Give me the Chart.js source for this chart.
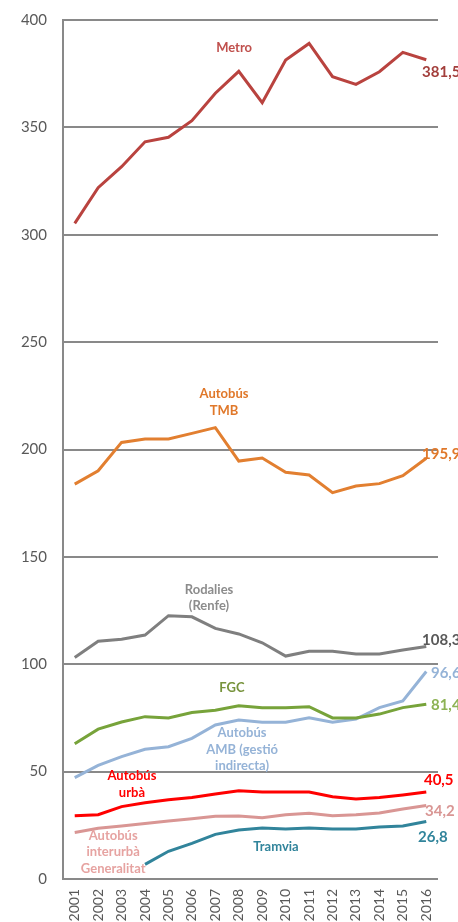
<!DOCTYPE html>
<html>
<head>
<meta charset="utf-8">
<script src="https://cdn.jsdelivr.net/npm/chart.js@4/dist/chart.umd.min.js"></script>
<style>
    body { margin: 0; background: #fff; }
    canvas { display: block; }
</style>
</head>
<body>
<canvas id="chart" width="458" height="922"></canvas>
<script>
    var YEARS = ['2001', '2002', '2003', '2004', '2005', '2006', '2007', '2008',
                 '2009', '2010', '2011', '2012', '2013', '2014', '2015', '2016'];

    var METRO = [305.3, 321.9, 331.7, 343.3, 345.4, 353.1, 365.9, 376.1,
                 361.5, 381.4, 389.1, 373.6, 370.0, 375.9, 384.9, 381.5];
    var BUS_TMB = [183.9, 190.1, 203.3, 204.9, 204.9, 207.5, 210.2, 194.6,
                   196.0, 189.4, 188.1, 179.9, 183.0, 184.1, 187.8, 195.9];
    var RODALIES = [103.1, 110.7, 111.6, 113.6, 122.6, 122.1, 116.7, 114.1,
                    110.0, 103.8, 106.0, 106.0, 104.8, 104.8, 106.6, 108.3];
    var FGC = [63.0, 69.8, 73.1, 75.6, 75.0, 77.5, 78.6, 80.7,
               79.8, 79.8, 80.2, 75.0, 75.0, 76.8, 79.8, 81.4];
    var BUS_AMB = [47.2, 52.9, 57.0, 60.4, 61.6, 65.5, 71.7, 74.0,
                   73.0, 73.0, 75.1, 73.0, 74.5, 79.8, 82.9, 96.6];
    var BUS_URBA = [29.5, 29.9, 33.7, 35.5, 36.9, 38.0, 39.6, 41.1,
                    40.5, 40.5, 40.5, 38.3, 37.3, 37.9, 39.1, 40.5];
    var BUS_INTERURBA = [21.7, 23.6, 24.7, 25.8, 27.0, 28.1, 29.2, 29.3,
                         28.5, 29.9, 30.6, 29.5, 29.9, 30.7, 32.6, 34.2];
    var TRAMVIA = [null, null, null, 6.8, 12.9, 16.6, 20.8, 22.8,
                   23.7, 23.3, 23.7, 23.3, 23.3, 24.2, 24.7, 26.8];

    var Y_MIN = 0;
    var Y_MAX = 400;
    var Y_STEP = 50;

    var GRID = '#898989';
    var TICK = '#595959';
    var FONT = 'Lato, "DejaVu Sans", sans-serif';

    // series names and end values, anchored in data units (category index, value)
    var LABELS = [
        {text: ['Metro'], color: '#C0504D', x: 6.8, y: 387.0, align: 'center', size: 13},
        {text: ['381,5'], color: '#A33F3C', x: 14.82, y: 375.8, align: 'left', size: 15},
        {text: ['Autobús', 'TMB'], color: '#E0782A', x: 6.37, y: 221.9, align: 'center', size: 13},
        {text: ['195,9'], color: '#E0782A', x: 14.82, y: 197.9, align: 'left', size: 15},
        {text: ['Rodalies', '(Renfe)'], color: '#8C8C8C', x: 5.73, y: 130.9, align: 'center', size: 13},
        {text: ['108,3'], color: '#595959', x: 14.82, y: 111.0, align: 'left', size: 15},
        {text: ['FGC'], color: '#77933C', x: 6.71, y: 88.9, align: 'center', size: 13},
        {text: ['96,6'], color: '#95B3D7', x: 15.2, y: 95.8, align: 'left', size: 15},
        {text: ['81,4'], color: '#8DB254', x: 15.2, y: 81.0, align: 'left', size: 15},
        {text: ['Autobús', 'AMB (gestió', 'indirecta)'], color: '#95B3D7', x: 7.14, y: 60.3, align: 'center', size: 13},
        {text: ['Autobús', 'urbà'], color: '#FF0000', x: 2.44, y: 44.0, align: 'center', size: 13},
        {text: ['40,5'], color: '#FF0000', x: 14.9, y: 46.1, align: 'left', size: 15},
        {text: ['Autobús', 'interurbà', 'Generalitat'], color: '#E6A3A1', x: 1.64, y: 12.6, align: 'center', size: 13},
        {text: ['34,2'], color: '#D99694', x: 14.95, y: 31.8, align: 'left', size: 15},
        {text: ['Tramvia'], color: '#31849B', x: 8.59, y: 15.0, align: 'center', size: 13},
        {text: ['26,8'], color: '#31849B', x: 14.65, y: 19.7, align: 'left', size: 15}
    ];

    function makeLine(label, data, color) {
        return {
            label: label,
            data: data,
            borderColor: color,
            backgroundColor: color,
            borderWidth: 3,
            pointRadius: 0,
            tension: 0,
            fill: false,
        };
    }

    // draws the text labels on top of the lines
    var labelPlugin = {
        id: 'seriesLabels',
        afterDatasetsDraw: function (chart) {
            var ctx = chart.ctx;
            var xScale = chart.scales.x;
            var yScale = chart.scales.y;
            ctx.save();
            LABELS.forEach(function (item) {
                var px = xScale.getPixelForValue(item.x);
                var py = yScale.getPixelForValue(item.y);
                var lineHeight = item.size + 3.5;
                var top = py - (item.text.length - 1) * lineHeight / 2;
                ctx.font = 'bold ' + item.size + 'px ' + FONT;
                ctx.fillStyle = item.color;
                ctx.textAlign = item.align;
                ctx.textBaseline = 'middle';
                item.text.forEach(function (line, i) {
                    ctx.fillText(line, px, top + i * lineHeight);
                });
            });
            ctx.restore();
        }
    };

    var config = {
        type: 'line',
        data: {
            labels: YEARS,
            datasets: [
                makeLine('Metro', METRO, '#B9433F'),
                makeLine('Autobús TMB', BUS_TMB, '#E27F30'),
                makeLine('Rodalies (Renfe)', RODALIES, '#7F7F7F'),
                makeLine('FGC', FGC, '#77A33A'),
                makeLine('Autobús AMB (gestió indirecta)', BUS_AMB, '#95B3D7'),
                makeLine('Autobús interurbà Generalitat', BUS_INTERURBA, '#D99694'),
                makeLine('Autobús urbà', BUS_URBA, '#FF0000'),
                makeLine('Tramvia', TRAMVIA, '#31849B'),
            ]
        },
        options: {
            responsive: false,
            devicePixelRatio: 1,
            animation: false,
            layout: {padding: {top: 20, right: 20, left: 0, bottom: 0}},
            plugins: {
                legend: {display: false},
                tooltip: {enabled: false},
            },
            scales: {
                x: {
                    offset: true,
                    grid: {display: false, drawTicks: false},
                    border: {display: false},
                    ticks: {
                        color: TICK,
                        font: {family: FONT, size: 14},
                        minRotation: 90,
                        maxRotation: 90,
                        padding: 10,
                        autoSkip: false,
                    },
                    afterFit: function (scale) { scale.height = 43; },
                },
                y: {
                    min: Y_MIN,
                    max: Y_MAX,
                    // invisible tick marks keep the labels away from the axis
                    // without the tick padding pushing the top of the plot down
                    grid: {color: GRID, lineWidth: 2, drawTicks: true, tickLength: 16, tickColor: 'rgba(0,0,0,0)'},
                    border: {display: true, color: GRID, width: 2},
                    ticks: {
                        stepSize: Y_STEP,
                        color: TICK,
                        font: {family: FONT, size: 15},
                        padding: 0,
                    },
                    afterFit: function (scale) { scale.width = 63; },
                },
            },
        },
        plugins: [labelPlugin],
    };

    new Chart(document.getElementById('chart').getContext('2d'), config);
</script>
</body>
</html>
